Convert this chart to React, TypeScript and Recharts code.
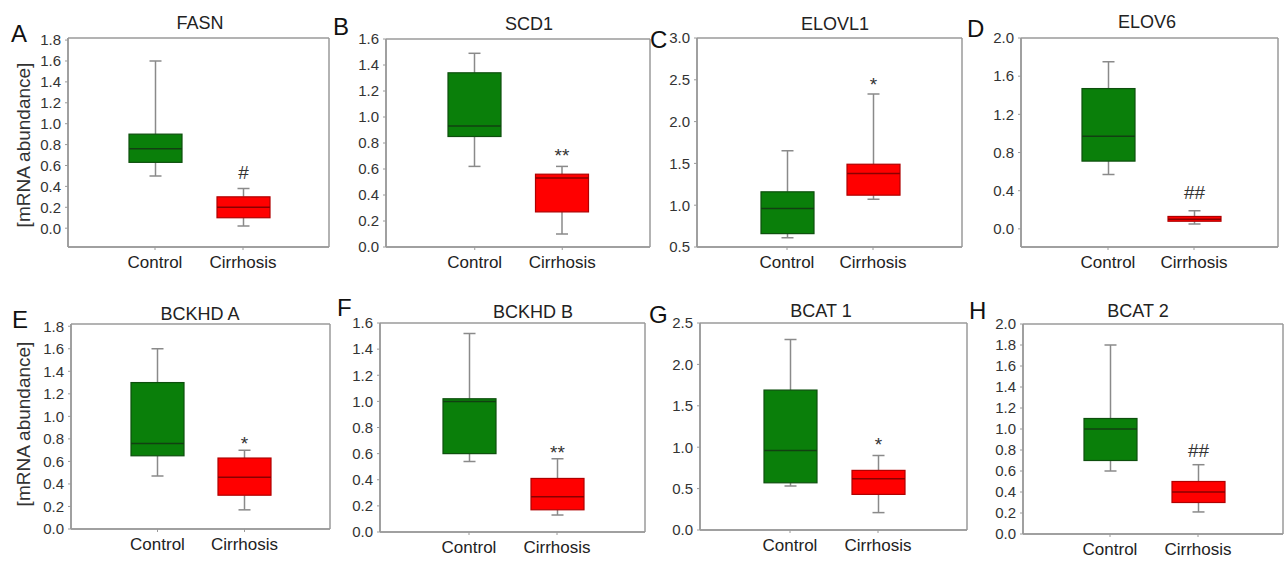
import { ComposedChart, Bar, XAxis, YAxis, CartesianGrid } from 'recharts';

const GROUPS = ['Control', 'Cirrhosis'];
const GENES = ['FASN', 'SCD1', 'ELOVL1', 'ELOV6', 'BCKHD A', 'BCKHD B', 'BCAT 1', 'BCAT 2'];
const PANEL_LETTERS = ['A', 'B', 'C', 'D', 'E', 'F', 'G', 'H'];

// box stats: [min, Q1, median, Q3, max]
const FASN_CONTROL = [0.5, 0.63, 0.76, 0.9, 1.6];
const FASN_CIRRHOSIS = [0.02, 0.1, 0.2, 0.3, 0.38];
const SCD1_CONTROL = [0.62, 0.85, 0.93, 1.34, 1.49];
const SCD1_CIRRHOSIS = [0.1, 0.27, 0.53, 0.56, 0.62];
const ELOVL1_CONTROL = [0.61, 0.66, 0.96, 1.16, 1.65];
const ELOVL1_CIRRHOSIS = [1.07, 1.12, 1.38, 1.49, 2.33];
const ELOV6_CONTROL = [0.57, 0.71, 0.97, 1.47, 1.75];
const ELOV6_CIRRHOSIS = [0.05, 0.08, 0.1, 0.13, 0.19];
const BCKHDA_CONTROL = [0.47, 0.65, 0.76, 1.3, 1.6];
const BCKHDA_CIRRHOSIS = [0.17, 0.3, 0.46, 0.63, 0.7];
const BCKHDB_CONTROL = [0.54, 0.6, 1.0, 1.02, 1.52];
const BCKHDB_CIRRHOSIS = [0.13, 0.17, 0.27, 0.41, 0.56];
const BCAT1_CONTROL = [0.53, 0.57, 0.96, 1.69, 2.3];
const BCAT1_CIRRHOSIS = [0.21, 0.43, 0.62, 0.72, 0.9];
const BCAT2_CONTROL = [0.6, 0.7, 1.0, 1.1, 1.8];
const BCAT2_CIRRHOSIS = [0.21, 0.3, 0.4, 0.5, 0.66];

const CONTROL_STATS = [FASN_CONTROL, SCD1_CONTROL, ELOVL1_CONTROL, ELOV6_CONTROL, BCKHDA_CONTROL, BCKHDB_CONTROL, BCAT1_CONTROL, BCAT2_CONTROL];
const CIRRHOSIS_STATS = [FASN_CIRRHOSIS, SCD1_CIRRHOSIS, ELOVL1_CIRRHOSIS, ELOV6_CIRRHOSIS, BCKHDA_CIRRHOSIS, BCKHDB_CIRRHOSIS, BCAT1_CIRRHOSIS, BCAT2_CIRRHOSIS];

// significance marks above the cirrhosis box (value = centre of the glyph)
const SIG_MARKS = ['#', '**', '*', '##', '*', '**', '*', '##'];
const SIG_LEVELS = [0.54, 0.74, 2.5, 0.38, 0.8, 0.64, 1.09, 0.8];

const Y_DOMAINS = [[-0.18, 1.82], [0, 1.6], [0.5, 3.0], [-0.19, 2.0], [0, 1.82], [0, 1.6], [0, 2.5], [0, 2.0]];
const Y_TICKS = [
  [0, 0.2, 0.4, 0.6, 0.8, 1.0, 1.2, 1.4, 1.6, 1.8],
  [0, 0.2, 0.4, 0.6, 0.8, 1.0, 1.2, 1.4, 1.6],
  [0.5, 1.0, 1.5, 2.0, 2.5, 3.0],
  [0, 0.4, 0.8, 1.2, 1.6, 2.0],
  [0, 0.2, 0.4, 0.6, 0.8, 1.0, 1.2, 1.4, 1.6, 1.8],
  [0, 0.2, 0.4, 0.6, 0.8, 1.0, 1.2, 1.4, 1.6],
  [0, 0.5, 1.0, 1.5, 2.0, 2.5],
  [0, 0.2, 0.4, 0.6, 0.8, 1.0, 1.2, 1.4, 1.6, 1.8, 2.0],
];

// layout: plot frame in page pixels, x padding so the two boxes sit where they do
const FRAMES = [
  { left: 68, top: 38, right: 329, bottom: 247, padL: 43, padR: 42 },
  { left: 386, top: 39, right: 650, bottom: 247, padL: 45, padR: 44 },
  { left: 697, top: 38, right: 962, bottom: 247, padL: 47, padR: 46 },
  { left: 1021, top: 38, right: 1278, bottom: 247, padL: 44, padR: 41 },
  { left: 71, top: 324, right: 330, bottom: 529, padL: 43, padR: 42 },
  { left: 380, top: 323, right: 645, bottom: 532, padL: 45, padR: 44 },
  { left: 700, top: 323, right: 967, bottom: 530, padL: 46, padR: 45 },
  { left: 1023, top: 324, right: 1283, bottom: 534, padL: 43, padR: 41 },
];
const LETTER_POS = [[11, 42], [333, 35], [650, 48], [967, 37], [12, 328], [337, 316], [649, 323], [969, 319]];
const TITLE_POS = [[200, 29], [529, 30], [835, 30], [1147, 28], [200, 320], [533, 318], [821, 317], [1138, 317]];
const YLABEL_POS = [[23, 145], [23, 424]];

const FONT = '"Liberation Sans", Arial, sans-serif';
const YW = 50; // y-axis width
const MT = 10;
const XH = 36;

const GROUP_STYLE: Record<string, { fill: string; stroke: string; median: string }> = {
  Control: { fill: '#0a7f0a', stroke: '#0d4f0d', median: '#124012' },
  Cirrhosis: { fill: '#ff0000', stroke: '#b00000', median: '#8a0000' },
};

const BoxShape = (props: any) => {
  const { x, y, width, height, payload } = props;
  const [lo, q1, med, q3, hi] = payload.stats as number[];
  // linear position inside the [min, max] range bar drawn by the library
  const py = (v: number) => y + (height * (hi - v)) / (hi - lo);
  const cx = x + width / 2;
  const st = GROUP_STYLE[payload.group];
  const cap = 6;
  const wh = '#8a8a8a';
  return (
    <g>
      <line x1={cx} x2={cx} y1={py(hi)} y2={py(q3)} stroke={wh} strokeWidth={1.5} />
      <line x1={cx} x2={cx} y1={py(q1)} y2={py(lo)} stroke={wh} strokeWidth={1.5} />
      <line x1={cx - cap} x2={cx + cap} y1={py(hi)} y2={py(hi)} stroke={wh} strokeWidth={1.5} />
      <line x1={cx - cap} x2={cx + cap} y1={py(lo)} y2={py(lo)} stroke={wh} strokeWidth={1.5} />
      <rect x={x} y={py(q3)} width={width} height={py(q1) - py(q3)} fill={st.fill} stroke={st.stroke} strokeWidth={1.2} />
      <line x1={x} x2={x + width} y1={py(med)} y2={py(med)} stroke={st.median} strokeWidth={1.5} />
      {payload.sig ? (
        <text
          x={cx}
          y={py(payload.sigLevel)}
          dy={payload.sig.includes('*') ? '0.58em' : '0.36em'}
          textAnchor="middle"
          fontSize={19}
          fill="#333"
          fontFamily={FONT}
        >
          {payload.sig}
        </text>
      ) : null}
    </g>
  );
};

function Panel({ index }: { index: number }) {
  const f = FRAMES[index];
  const w = f.right - f.left;
  const h = f.bottom - f.top;
  const data = GROUPS.map((g, gi) => {
    const stats = gi === 0 ? CONTROL_STATS[index] : CIRRHOSIS_STATS[index];
    return {
      group: g,
      stats,
      range: [stats[0], stats[4]],
      sig: gi === 1 ? SIG_MARKS[index] : '',
      sigLevel: SIG_LEVELS[index],
    };
  });
  return (
    <div style={{ position: 'absolute', left: f.left - YW, top: f.top - MT, fontFamily: FONT }}>
      <ComposedChart
        width={w + YW + 5}
        height={h + MT + XH}
        data={data}
        margin={{ top: MT, right: 5, left: 0, bottom: 0 }}
      >
        <CartesianGrid
          stroke="#9a9a9a"
          strokeWidth={1.5}
          horizontalCoordinatesGenerator={({ offset }: any) => [offset.top, offset.top + offset.height]}
          verticalCoordinatesGenerator={({ offset }: any) => [offset.left, offset.left + offset.width]}
        />
        <XAxis
          dataKey="group"
          type="category"
          interval={0}
          height={XH}
          padding={{ left: f.padL, right: f.padR }}
          axisLine={{ stroke: '#9a9a9a', strokeWidth: 1.5 }}
          tickLine={{ stroke: '#9a9a9a' }}
          tickSize={3}
          tickMargin={6}
          tick={{ fontSize: 17, fill: '#222' }}
        />
        <YAxis
          type="number"
          width={YW}
          domain={Y_DOMAINS[index]}
          ticks={Y_TICKS[index]}
          allowDataOverflow
          interval={0}
          axisLine={{ stroke: '#9a9a9a', strokeWidth: 1.5 }}
          tickLine={{ stroke: '#9a9a9a' }}
          tickSize={3}
          tickMargin={4}
          tick={{ fontSize: 15, fill: '#333' }}
          tickFormatter={(v: number) => v.toFixed(1)}
        />
        <Bar dataKey="range" barSize={53} shape={BoxShape} isAnimationActive={false} />
      </ComposedChart>
    </div>
  );
}

export default function App() {
  return (
    <div style={{ position: 'absolute', left: 0, top: 0, width: 1285, height: 562, background: '#fff', fontFamily: FONT }}>
      {GENES.map((_, i) => (
        <Panel key={i} index={i} />
      ))}
      <svg width={1285} height={562} style={{ position: 'absolute', left: 0, top: 0, pointerEvents: 'none' }}>
        {PANEL_LETTERS.map((l, i) => (
          <text key={l} x={LETTER_POS[i][0]} y={LETTER_POS[i][1]} fontSize={24} fill="#111" fontFamily={FONT}>
            {l}
          </text>
        ))}
        {GENES.map((g, i) => (
          <text key={g} x={TITLE_POS[i][0]} y={TITLE_POS[i][1]} fontSize={18} fill="#222" textAnchor="middle" fontFamily={FONT}>
            {g}
          </text>
        ))}
        {YLABEL_POS.map(([x, y], i) => (
          <text
            key={i}
            x={x}
            y={y}
            fontSize={19}
            fill="#333"
            textAnchor="middle"
            dominantBaseline="central"
            transform={`rotate(-90 ${x} ${y})`}
            fontFamily={FONT}
          >
            [mRNA abundance]
          </text>
        ))}
      </svg>
    </div>
  );
}
